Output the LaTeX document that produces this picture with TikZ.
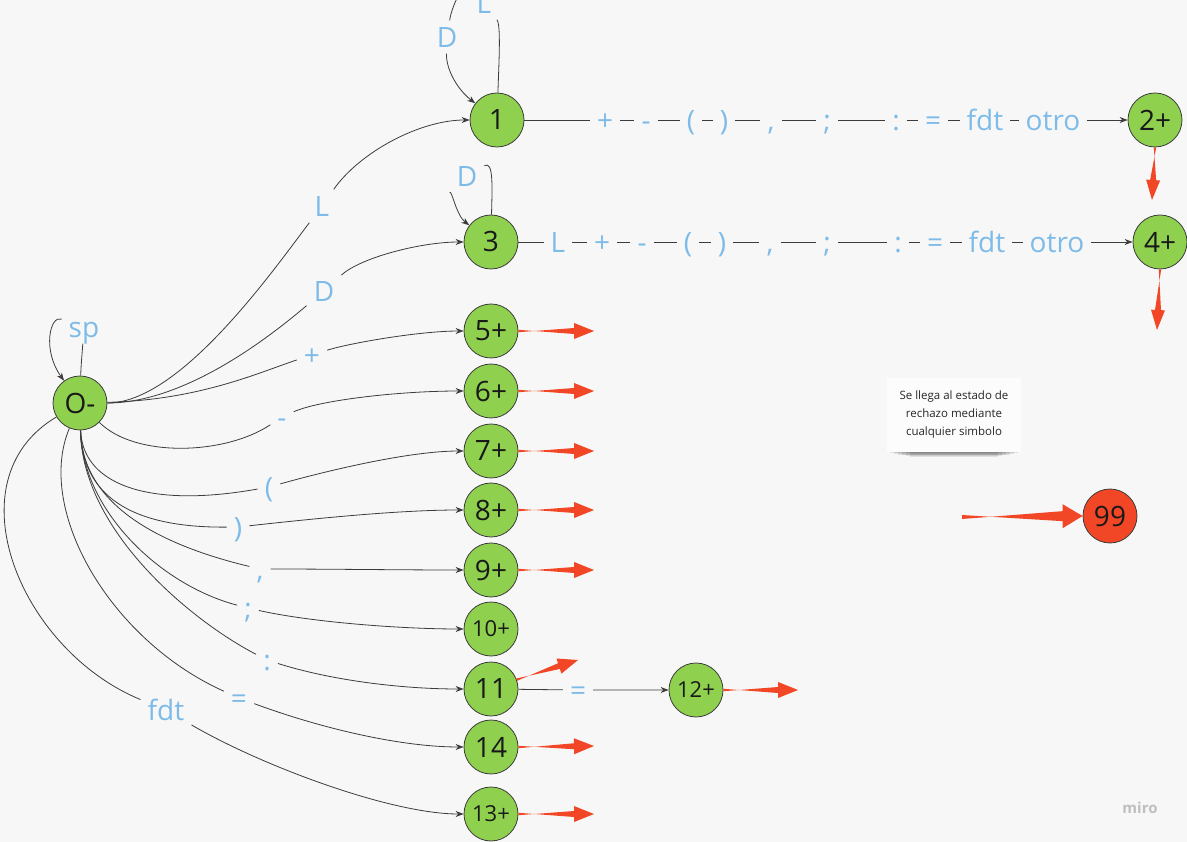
\documentclass[tikz,border=0pt]{standalone}
\usepackage{fontspec}
\setmainfont{Open Sans}
\usetikzlibrary{arrows.meta,calc}
\definecolor{fondo}{RGB}{247,247,247}
\definecolor{papel}{RGB}{252,252,252}
\definecolor{verde}{RGB}{143,209,79}
\definecolor{rojo}{RGB}{242,71,38}
\definecolor{celeste}{RGB}{125,187,232}
\definecolor{linea}{RGB}{60,60,60}

\begin{document}
\begin{tikzpicture}[x=1pt,y=-1pt]

    \tikzset{
      estado/.style={
        circle,
        draw=linea,
        line width=0.8pt,
        fill=verde,
        text=black!90,
        minimum size=54pt,
        inner sep=0pt,
        font=\fontsize{28}{30}\selectfont,
      },
      chico/.style={font=\fontsize{22}{24}\selectfont},
      simb/.style={
        text=celeste,
        fill=fondo,
        inner xsep=7pt,
        inner ysep=6pt,
        text height=21pt,
        text depth=0pt,
        font=\fontsize{28}{30}\selectfont,
      },
      liso/.style={draw=linea, line width=0.8pt},
      trans/.style={liso, -{Stealth[length=8pt,width=6pt]}},
      rechazo/.style 2 args={fill=rojo, draw=none, to path={
        ($(\tikztostart)!{#1*0.4pt}!90:(\tikztotarget)$) --
        ($(\tikztotarget)!{veclen(20,#1)*1pt}!{atan(#1/20)}:(\tikztostart)$) --
        ($(\tikztotarget)!{veclen(20,#2)*1pt}!{atan(#2/20)}:(\tikztostart)$) --
        (\tikztotarget) --
        ($(\tikztotarget)!{veclen(20,#2)*1pt}!{-atan(#2/20)}:(\tikztostart)$) --
        ($(\tikztotarget)!{veclen(20,#1)*1pt}!{-atan(#1/20)}:(\tikztostart)$) --
        ($(\tikztostart)!{#1*0.4pt}!-90:(\tikztotarget)$) -- cycle}},
    }
    \useasboundingbox (0,0) rectangle (1187,842);
    \fill[fondo] (0,0) rectangle (1187,842);
    \clip (0,0) rectangle (1187,842);

	\node[estado] (s0) at (80,403) {O-};
	\node[estado] (s1) at (497,120) {1};
	\node[estado] (s2) at (1155,120) {2+};
	\node[estado] (s3) at (491,242) {3};
	\node[estado] (s4) at (1160,242) {4+};
	\foreach \n/\y in {5/331,6/391,7/451,8/510,9/570}
		\node[estado] (s\n) at (491,\y) {\n+};
	\node[estado,chico] (s10) at (491,629) {10+};
	\node[estado] (s11) at (491,689) {11};
	\node[estado,chico] (s12) at (696,690) {12+};
	\node[estado] (s14) at (491,747) {14};
	\node[estado,chico] (s13) at (491,814) {13+};
	\node[estado,fill=rojo] (s99) at (1110,516) {99};

	\node[simb] (b1L) at (484,3) {L};
	\node[simb] (b1D) at (447,37) {D};
	\node[simb] (b3D) at (467,176) {D};
	\node[simb] (b0sp) at (84,327) {sp};
	\draw[trans] (s1) .. controls (499,60) and (501,25) .. (b1L) .. controls (466,-25) and (452,5) .. (b1D) .. controls (446,70) and (458,90) .. (s1);
	\draw[trans] (s3) .. controls (492,190) and (494,160) .. (b3D) .. controls (452,190) and (456,215) .. (s3);
	\draw[trans] (s0) .. controls (81,365) and (82,355) .. (b0sp) .. controls (50,315) and (42,350) .. (s0);

	\node[simb] (eL) at (322,206) {L};
	\node[simb] (eD) at (324,291) {D};
	\node[simb] (emas) at (312,355) {+};
	\node[simb] (emenos) at (282,417) {-};
	\node[simb] (eabre) at (269,487) {(};
	\node[simb] (ecierra) at (238,527) {)};
	\node[simb] (ecoma) at (260,569) {,};
	\node[simb] (epyc) at (248,608) {;};
	\node[simb] (edosp) at (267,660) {:};
	\node[simb] (eigual) at (239,698) {=};
	\node[simb] (efdt) at (166,710) {fdt};
	\draw[trans] (s0) .. controls (180,403) and (272,272) .. (eL) .. controls (360,152) and (420,120) .. (s1);
	\draw[trans] (s0) .. controls (190,403) and (280,328) .. (eD) .. controls (360,258) and (420,242) .. (s3);
	\draw[trans] (s0) .. controls (200,400) and (260,372) .. (emas) .. controls (350,343) and (420,331) .. (s5);
	\draw[trans] (s0) .. controls (135,458) and (225,455) .. (emenos) .. controls (320,400) and (400,391) .. (s6);
	\draw[trans] (s0) .. controls (82,480) and (140,510) .. (eabre) .. controls (330,470) and (410,451) .. (s7);
	\draw[trans] (s0) .. controls (82,495) and (130,528) .. (ecierra) .. controls (320,518) and (400,510) .. (s8);
	\draw[trans] (s0) .. controls (82,505) and (160,545) .. (ecoma) .. controls (330,569) and (400,570) .. (s9);
	\draw[trans] (s0) .. controls (82,510) and (160,585) .. (epyc) .. controls (310,622) and (400,629) .. (s10);
	\draw[trans] (s0) .. controls (82,530) and (190,620) .. (edosp) .. controls (330,680) and (400,689) .. (s11);
	\draw[trans] (s0) .. controls (35,510) and (110,640) .. (eigual) .. controls (320,728) and (400,747) .. (s14);
	\draw[trans] (s0) .. controls (-50,480) and (20,650) .. (efdt) .. controls (260,765) and (390,814) .. (s13);

	\foreach \x/\t [count=\i] in {605/+,646/-,691/(,724/),771/{,},827/;,896/:,933/=,985/fdt,1053/otro}
		\node[simb] (u\i) at (\x,120) {\t};
	\draw[liso] (s1) -- (u1);
	\foreach \i [count=\j from 2] in {1,...,9}
		\draw[liso] (u\i) -- (u\j);
	\draw[trans] (u10) -- (s2);
	\foreach \x/\t [count=\i] in {558/L,602/+,642/-,688/(,722/),770/{,},827/;,898/:,935/=,987/fdt,1057/otro}
		\node[simb] (v\i) at (\x,242) {\t};
	\draw[liso] (s3) -- (v1);
	\foreach \i [count=\j from 2] in {1,...,10}
		\draw[liso] (v\i) -- (v\j);
	\draw[trans] (v11) -- (s4);
	\node[simb] (w1) at (578,690) {=};
	\draw[trans] (s11) -- (w1) -- (s12);

	\coordinate (r2) at (1152,200);
	\coordinate (r4) at (1157,330);
	\path[rechazo={3}{7}] (s2.south) to (r2);
	\path[rechazo={3}{7}] (s4.south) to (r4);
	\foreach \n/\y in {5/331,6/391,7/451,8/510,9/570,14/746,13/814} {
		\coordinate (r\n) at (594,\y);
		\path[rechazo={3}{8}] (s\n.east) to (r\n);
	}
	\coordinate (r11) at (578,660);
	\path[rechazo={3}{8}] (s11.20) to (r11);
	\coordinate (r12) at (798,690);
	\path[rechazo={3}{8}] (s12.east) to (r12);
	\coordinate (r99) at (962,517);
	\path[rechazo={5}{12}] (r99) to (s99.west);

	\foreach \k in {0,...,5}
		\fill[black, opacity=.09] (890+\k*4,450) rectangle (1018-\k*4,453+\k*0.8);
	\node[fill=papel, minimum width=134pt, minimum height=74pt, align=center, text=black!85, font=\fontsize{11.5}{18}\selectfont] (nota) at (954,415) {Se llega al estado de\\rechazo mediante\\cualquier simbolo};
	\node[text=black!25, font=\bfseries\fontsize{15}{15}\selectfont] (marca) at (1140,808) {miro};

\end{tikzpicture}
\end{document}
